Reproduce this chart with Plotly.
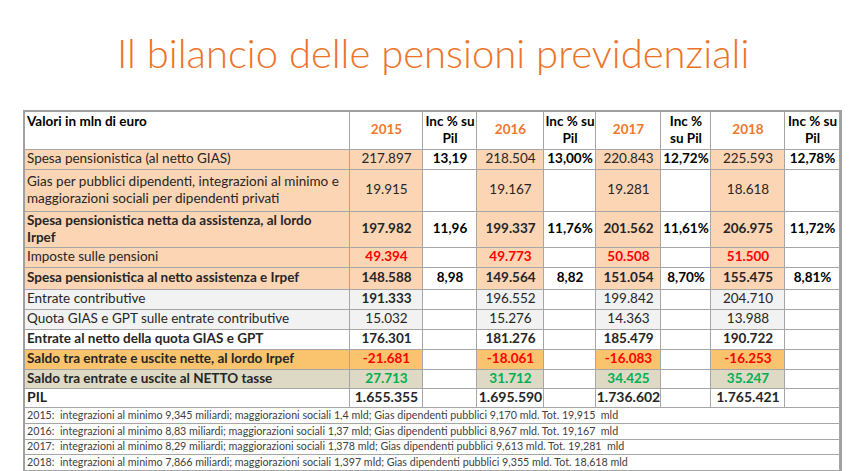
import numpy as np
import plotly.graph_objects as go

# Row labels and yearly values (mln di euro), as shown in the slide
row_labels = [
    "Spesa pensionistica (al netto GIAS)",
    "Gias per pubblici dipendenti, integrazioni al minimo e<br>maggiorazioni sociali per dipendenti privati",
    "Spesa pensionistica netta da assistenza, al lordo<br>Irpef",
    "Imposte sulle pensioni",
    "Spesa pensionistica al netto assistenza e Irpef",
    "Entrate contributive",
    "Quota GIAS e GPT sulle entrate contributive",
    "Entrate al netto della quota GIAS e GPT",
    "Saldo tra entrate e uscite nette, al lordo Irpef",
    "Saldo tra entrate e uscite al NETTO tasse",
    "PIL",
]
years = ["2015", "2016", "2017", "2018"]
inc_header = ["Inc % su<br>Pil", "Inc % su<br>Pil", "Inc %<br>su Pil", "Inc % su<br>Pil"]

val_2015 = ["217.897", "19.915", "197.982", "49.394", "148.588", "191.333", "15.032", "176.301", "-21.681", "27.713", "1.655.355"]
val_2016 = ["218.504", "19.167", "199.337", "49.773", "149.564", "196.552", "15.276", "181.276", "-18.061", "31.712", "1.695.590"]
val_2017 = ["220.843", "19.281", "201.562", "50.508", "151.054", "199.842", "14.363", "185.479", "-16.083", "34.425", "1.736.602"]
val_2018 = ["225.593", "18.618", "206.975", "51.500", "155.475", "204.710", "13.988", "190.722", "-16.253", "35.247", "1.765.421"]

inc_2015 = ["13,19", "", "11,96", "", "8,98", "", "", "", "", "", ""]
inc_2016 = ["13,00%", "", "11,76%", "", "8,82", "", "", "", "", "", ""]
inc_2017 = ["12,72%", "", "11,61%", "", "8,70%", "", "", "", "", "", ""]
inc_2018 = ["12,78%", "", "11,72%", "", "8,81%", "", "", "", "", "", ""]

notes = [
    "2015:  integrazioni al minimo 9,345 miliardi; maggiorazioni sociali 1,4 mld; Gias dipendenti pubblici 9,170 mld. Tot. 19,915  mld",
    "2016:  integrazioni al minimo 8,83 miliardi; maggiorazioni sociali 1,37 mld; Gias dipendenti pubblici 8,967 mld. Tot. 19,167  mld",
    "2017:  integrazioni al minimo 8,29 miliardi; maggiorazioni sociali 1,378 mld; Gias dipendenti pubblici 9,613 mld. Tot. 19,281  mld",
    "2018:  integrazioni al minimo 7,866 miliardi; maggiorazioni sociali 1,397 mld; Gias dipendenti pubblici 9,355 mld. Tot. 18,618 mld",
]

# per-row styling
bold_label = [False, False, True, False, True, False, False, True, True, True, True]
bold_value = [False, False, True, True, True, False, False, True, True, True, True]
# fill code: 0 white, 1 peach, 2 light grey, 3 gold, 4 tan
row_fill = [1, 1, 1, 1, 1, 2, 2, 0, 3, 4, 0]
value_color = ["#262626"] * 3 + ["#FF0000"] + ["#262626"] * 4 + ["#FF0000", "#00B050", "#262626"]
fill_scale = [[0, "white"], [0.25, "#FCD5B5"], [0.5, "#F2F2F2"], [0.75, "#FAC46E"], [1, "#DDD9C4"]]

# geometry in pixels (1 axis unit = 1 px)
col_widths = [325, 73, 54, 67, 52, 65, 50, 74, 55]
row_heights = [38, 20, 42, 36, 20, 22, 20, 20, 20, 20, 19, 19]
note_heights = [16, 16, 15, 16]
W, H = 850, 471
LEFT, TOP = 17, 104

x_edges = np.concatenate([[0], np.cumsum(col_widths)])
y_edges = np.concatenate([[0], np.cumsum(row_heights)])
n_edges = y_edges[-1] + np.concatenate([[0], np.cumsum(note_heights)])
x_mid = (x_edges[:-1] + x_edges[1:]) / 2
y_mid = (y_edges[:-1] + y_edges[1:]) / 2
n_mid = (n_edges[:-1] + n_edges[1:]) / 2
total_w, total_h = x_edges[-1], n_edges[-1]


def b(s, on):
    return f"<b>{s}</b>" if (on and s) else s


# fill matrix: header row + data rows
z = [[0] * len(col_widths)]
for code in row_fill:
    z.append([code if (j == 0 or j % 2 == 1) else 0 for j in range(len(col_widths))])

fig = go.Figure()
fig.add_trace(go.Heatmap(
    x=x_edges, y=y_edges, z=z, zmin=0, zmax=4, colorscale=fill_scale,
    showscale=False, xgap=1, ygap=1, hoverinfo="skip",
))
fig.add_trace(go.Heatmap(
    x=[0, total_w], y=n_edges, z=[[0]] * len(notes), zmin=0, zmax=4,
    colorscale=fill_scale, showscale=False, xgap=1, ygap=1, hoverinfo="skip",
))

# text layer
tx, ty, tt, tc, tp, ts = [], [], [], [], [], []


def put(x, y, text, color, pos="middle center", size=13.5):
    tx.append(x); ty.append(y); tt.append(text); tc.append(color); tp.append(pos); ts.append(size)


put(2, 11, "<b>Valori in mln di euro</b>", "#000000", "middle right")
for k, (yr, ih) in enumerate(zip(years, inc_header)):
    put(x_mid[1 + 2 * k], y_mid[0], f"<b>{yr}</b>", "#F0782A")
    put(x_mid[2 + 2 * k], y_mid[0], f"<b>{ih}</b>", "#000000")

for i, lab in enumerate(row_labels):
    put(2, y_mid[i + 1], b(lab, bold_label[i]), "#262626", "middle right",
        14 if lab == "PIL" else 13.5)

year_vals = [val_2015, val_2016, val_2017, val_2018]
inc_vals = [inc_2015, inc_2016, inc_2017, inc_2018]
for k in range(4):
    for i in range(len(row_labels)):
        on = bold_value[i] or (k == 0 and i == 5)
        size = 14 if row_labels[i] == "PIL" else 13.5
        put(x_mid[1 + 2 * k], y_mid[i + 1], b(year_vals[k][i], on), value_color[i], size=size)
        if inc_vals[k][i]:
            put(x_mid[2 + 2 * k], y_mid[i + 1], b(inc_vals[k][i], True), "#000000")

for i, note in enumerate(notes):
    put(2, n_mid[i], note, "#404040", "middle right", 10.7)

fig.add_trace(go.Scatter(
    x=tx, y=ty, text=tt, mode="text", textposition=tp,
    textfont=dict(family="Lato", size=ts, color=tc),
    hoverinfo="skip", showlegend=False,
))

fig.add_annotation(
    text="Il bilancio delle pensioni previdenziali",
    xref="paper", yref="paper", x=0.5, y=1 - 45 / H,
    xanchor="center", yanchor="middle", showarrow=False,
    font=dict(family="Lato", size=40, color="#ED7327", weight=300),
)

fig.update_xaxes(
    domain=[LEFT / W, (LEFT + total_w) / W], range=[0, total_w],
    showgrid=False, zeroline=False, showticklabels=False,
    showline=True, mirror=True, linecolor="#A0A0A0", linewidth=1.5,
)
fig.update_yaxes(
    domain=[1 - (TOP + total_h) / H, 1 - TOP / H], range=[total_h, 0],
    showgrid=False, zeroline=False, showticklabels=False,
    showline=True, mirror=True, linecolor="#A0A0A0", linewidth=1.5,
)
fig.update_layout(
    width=W, height=H,
    margin=dict(l=0, r=0, t=0, b=0),
    paper_bgcolor="white",
    plot_bgcolor="#A6A6A6",
    showlegend=False,
)
fig.write_html("out.html")
